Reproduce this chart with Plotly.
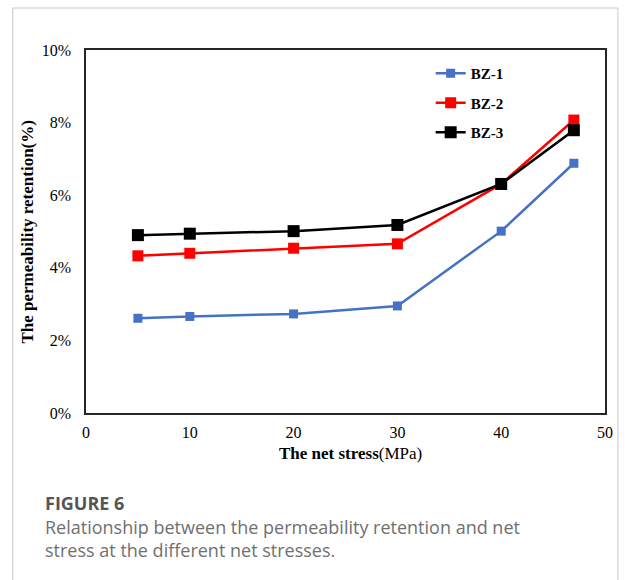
import plotly.graph_objects as go

# Net stress (MPa) and permeability retention (%) for the three cores
net_stress = [5, 10, 20, 30, 40, 47]
bz1 = [2.61, 2.66, 2.73, 2.95, 5.01, 6.88]
bz2 = [4.33, 4.40, 4.54, 4.66, 6.31, 8.07]
bz3 = [4.90, 4.94, 5.01, 5.18, 6.31, 7.79]

series_names = ["BZ-1", "BZ-2", "BZ-3"]
series_colors = ["#4472C4", "#FF0000", "#000000"]
marker_sizes = [9, 11, 12]

x_ticks = [0, 10, 20, 30, 40, 50]
y_ticks = [0, 2, 4, 6, 8, 10]
y_tick_labels = [f"{v}%" for v in y_ticks]

W, H = 625, 580
L, R, T, B = 86, 610, 50, 413  # plot-area edges in pixels


def fx(px):
    return (px - L) / (R - L)


def fy(py):
    return (B - py) / (B - T)


SERIF = "Liberation Serif, Times New Roman, serif"
SANS = "Open Sans, sans-serif"

fig = go.Figure()
for i, (name, vals) in enumerate(zip(series_names, [bz1, bz2, bz3])):
    fig.add_trace(go.Scatter(
        x=net_stress, y=vals, name=name, mode="lines+markers",
        legendgroup=name,
        line=dict(color=series_colors[i], width=2.5),
        marker=dict(symbol="square", size=marker_sizes[i], color=series_colors[i]),
    ))

fig.update_layout(
    width=W, height=H,
    margin=dict(l=L, r=W - R, t=T, b=H - B),
    paper_bgcolor="white", plot_bgcolor="white",
    showlegend=True,
    legend=dict(
        x=fx(434), y=fy(57), xanchor="left", yanchor="top",
        font=dict(family=SERIF, size=15, color="black", weight="bold"),
        bgcolor="rgba(0,0,0,0)", tracegroupgap=7, itemwidth=30,
    ),
    xaxis=dict(
        range=[0, 50], tickmode="array", tickvals=x_ticks,
        showgrid=False, zeroline=False,
        showline=True, mirror=True, linecolor="#262626", linewidth=1.5,
        ticks="", ticklabelstandoff=4,
        tickfont=dict(family=SERIF, size=16, color="black"),
    ),
    yaxis=dict(
        range=[0, 10], tickmode="array", tickvals=y_ticks,
        ticktext=y_tick_labels, showgrid=False,
        zeroline=False, showline=True, mirror=True, linecolor="#262626",
        linewidth=1.5, ticks="", ticklabelstandoff=10,
        tickfont=dict(family=SERIF, size=16, color="black"),
    ),
)

annotations = [
    dict(text="<b>The net stress</b>(MPa)", x=fx(353), y=fy(453),
         font=dict(family=SERIF, size=17, color="black")),
    dict(text="<b>The permeability retention(%)</b>", x=fx(27), y=fy(232),
         textangle=-90, font=dict(family=SERIF, size=17, color="black")),
    dict(text="<b>FIGURE 6</b>", x=fx(43), y=fy(503), xanchor="left",
         font=dict(family=SANS, size=18, color="#555555")),
    dict(text="Relationship between the permeability retention and net"
              "<br>stress at the different net stresses.",
         x=fx(43), y=fy(538), xanchor="left", align="left",
         font=dict(family=SANS, size=18, color="#707070")),
]
for a in annotations:
    a.setdefault("xanchor", "center")
    fig.add_annotation(xref="paper", yref="paper", yanchor="middle",
                       showarrow=False, **a)

# Card outline around figure
fig.add_shape(type="rect", xref="paper", yref="paper",
              x0=fx(12), x1=fx(623), y0=fy(8), y1=fy(600),
              line=dict(color="#c8c8c8", width=1), fillcolor="rgba(0,0,0,0)",
              layer="below")

fig.write_html("out.html")
